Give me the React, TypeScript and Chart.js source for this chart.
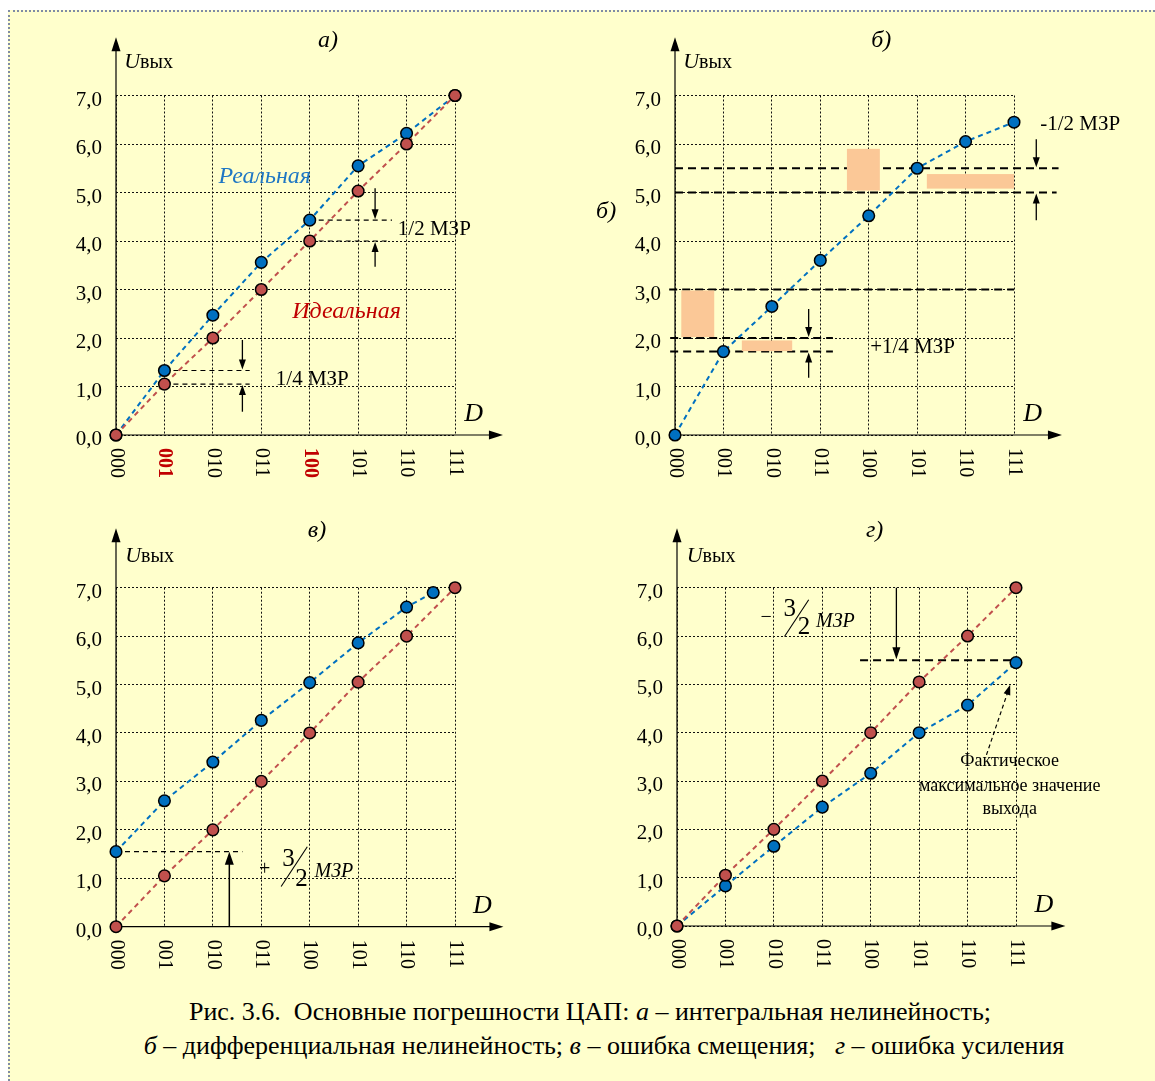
import React, { useEffect, useRef } from 'react';
import { Chart, registerables } from 'chart.js';

Chart.register(...registerables);

const SERIF = '"Liberation Serif", "Times New Roman", "DejaVu Serif", serif';

// ---------- data ----------
const codes = [0, 1, 2, 3, 4, 5, 6, 7];
const codeLabels = ['000', '001', '010', '011', '100', '101', '110', '111'];
const yTickValues = [0, 1, 2, 3, 4, 5, 6, 7];
const yTickLabels = ['0,0', '1,0', '2,0', '3,0', '4,0', '5,0', '6,0', '7,0'];

// а) integral nonlinearity
const idealA = [0, 1.05, 2, 3, 4, 5.03, 6, 7];
const realA = [0, 1.33, 2.47, 3.56, 4.43, 5.55, 6.22, 7];
// б) differential nonlinearity
const realB = [0, 1.72, 2.65, 3.6, 4.52, 5.5, 6.05, 6.45];
// в) offset error
const idealC = [0, 1.05, 2, 3, 4, 5.05, 6, 7];
const realCx = [0, 1, 2, 3, 4, 5, 6, 6.55];
const realC = [1.55, 2.6, 3.4, 4.26, 5.04, 5.86, 6.6, 6.9];
// г) gain error
const idealD = [0, 1.05, 2, 3, 4, 5.05, 6, 7];
const realD = [0, 0.83, 1.65, 2.46, 3.16, 4.0, 4.57, 5.45];

const BLUE = '#0070C0';
const RED = '#C0504D';

// ---------- helpers ----------
type H = { ctx: CanvasRenderingContext2D; X: (v: number) => number; Y: (v: number) => number };

function seg(h: H, x1: number, y1: number, x2: number, y2: number, w = 1, dash: number[] = [], color = '#000') {
  const { ctx, X, Y } = h;
  ctx.save();
  ctx.beginPath();
  ctx.setLineDash(dash);
  ctx.lineWidth = w;
  ctx.strokeStyle = color;
  ctx.moveTo(X(x1), Y(y1));
  ctx.lineTo(X(x2), Y(y2));
  ctx.stroke();
  ctx.restore();
}

function arrow(h: H, x1: number, y1: number, x2: number, y2: number, w = 1.3, len = 10, wid = 7, dash: number[] = []) {
  const { ctx, X, Y } = h;
  const px1 = X(x1), py1 = Y(y1), px2 = X(x2), py2 = Y(y2);
  const ang = Math.atan2(py2 - py1, px2 - px1);
  const bx = px2 - Math.cos(ang) * len * 0.8;
  const by = py2 - Math.sin(ang) * len * 0.8;
  ctx.save();
  ctx.beginPath();
  ctx.setLineDash(dash);
  ctx.lineWidth = w;
  ctx.strokeStyle = '#000';
  ctx.moveTo(px1, py1);
  ctx.lineTo(bx, by);
  ctx.stroke();
  ctx.setLineDash([]);
  ctx.beginPath();
  ctx.fillStyle = '#000';
  ctx.moveTo(px2, py2);
  ctx.lineTo(px2 - Math.cos(ang) * len - Math.sin(ang) * wid / 2, py2 - Math.sin(ang) * len + Math.cos(ang) * wid / 2);
  ctx.lineTo(px2 - Math.cos(ang) * len + Math.sin(ang) * wid / 2, py2 - Math.sin(ang) * len - Math.cos(ang) * wid / 2);
  ctx.closePath();
  ctx.fill();
  ctx.restore();
}

function txt(h: H, s: string, x: number, y: number, font: string, color = '#000', align: CanvasTextAlign = 'left', base: CanvasTextBaseline = 'alphabetic') {
  const { ctx, X, Y } = h;
  ctx.save();
  ctx.font = font;
  ctx.fillStyle = color;
  ctx.textAlign = align;
  ctx.textBaseline = base;
  ctx.fillText(s, X(x), Y(y));
  ctx.restore();
}

function rect(h: H, x1: number, x2: number, y1: number, y2: number, color: string) {
  const { ctx, X, Y } = h;
  ctx.save();
  ctx.fillStyle = color;
  ctx.fillRect(X(x1), Y(y2), X(x2) - X(x1), Y(y1) - Y(y2));
  ctx.restore();
}

function fraction(h: H, sign: string, signAt: number[], num: number[], den: number[], slash: number[], mzrAt: number[]) {
  txt(h, sign, signAt[0], signAt[1], `20px ${SERIF}`, '#000', 'center', 'middle');
  txt(h, '3', num[0], num[1], `25px ${SERIF}`, '#000', 'center', 'middle');
  txt(h, '2', den[0], den[1], `25px ${SERIF}`, '#000', 'center', 'middle');
  seg(h, slash[0], slash[1], slash[2], slash[3], 1.1);
  txt(h, 'МЗР', mzrAt[0], mzrAt[1], `italic 20px ${SERIF}`);
}

function series(xs: number[], ys: number[], color: string) {
  return {
    data: xs.map((x, i) => ({ x, y: ys[i] })),
    showLine: true,
    borderColor: color,
    borderWidth: 2,
    borderDash: [5, 4],
    pointRadius: 5.8,
    pointBackgroundColor: color,
    pointBorderColor: '#000',
    pointBorderWidth: 1.5,
    clip: false,
    tension: 0,
  };
}

// ---------- panel specs ----------
type Spec = {
  left: number; top: number; w: number; h: number;
  pad: { left: number; top: number; right: number; bottom: number };
  datasets: any[];
  title: string; titleAt: number[];
  uAt: number[]; dAt: number[];
  yTop: number; xEnd: number;
  redLabels?: number[];
  under?: (h: H) => void;
  over?: (h: H) => void;
};

const specA: Spec = {
  left: 0, top: 0, w: 575, h: 495,
  pad: { left: 116, top: 95.5, right: 120, bottom: 60 },
  datasets: [series(codes, idealA, RED), series(codes, realA, BLUE)],
  title: 'а)', titleAt: [4.38, 8.0],
  uAt: [0.17, 7.56], dAt: [7.19, 0.29],
  yTop: 8.2, xEnd: 7.99,
  redLabels: [1, 4],
  under: (h) => {
    seg(h, 4, 4.43, 5.7, 4.43, 1.2, [5, 4]);
    seg(h, 4, 4.0, 5.62, 4.0, 1.2, [5, 4]);
    seg(h, 1, 1.33, 2.76, 1.33, 1.2, [5, 4]);
    seg(h, 1, 1.05, 2.76, 1.05, 1.2, [5, 4]);
  },
  over: (h) => {
    txt(h, 'Реальная', 3.07, 5.2, `italic 24px ${SERIF}`, '#1F77C4', 'center');
    txt(h, 'Идеальная', 4.76, 2.41, `italic 24px ${SERIF}`, '#C00000', 'center');
    txt(h, '1/2 МЗР', 5.82, 4.12, `21px ${SERIF}`);
    arrow(h, 5.35, 5.09, 5.35, 4.45);
    arrow(h, 5.35, 3.47, 5.35, 3.98);
    txt(h, '1/4 МЗР', 3.3, 1.03, `21px ${SERIF}`);
    arrow(h, 2.61, 1.96, 2.61, 1.35);
    arrow(h, 2.61, 0.48, 2.61, 1.03);
  },
};

const specB: Spec = {
  left: 575, top: 0, w: 580, h: 495,
  pad: { left: 100, top: 95.5, right: 141, bottom: 60 },
  datasets: [series(codes, realB, BLUE)],
  title: 'б)', titleAt: [4.26, 8.0],
  uAt: [0.17, 7.56], dAt: [7.19, 0.29],
  yTop: 8.2, xEnd: 7.99,
  under: (h) => {
    const d = [8, 5];
    seg(h, 0, 5.5, 7.92, 5.5, 2, d);
    seg(h, 0, 5.0, 7.88, 5.0, 2, d);
    seg(h, -0.12, 3.0, 7.0, 3.0, 2, d);
    seg(h, -0.1, 2.0, 3.26, 2.0, 2, d);
    seg(h, -0.1, 1.72, 3.26, 1.72, 2, d);
    const peach = '#FBC897';
    rect(h, 0.13, 0.81, 2.02, 2.98, peach);
    rect(h, 1.38, 2.42, 1.73, 1.95, peach);
    rect(h, 3.55, 4.23, 5.04, 5.9, peach);
    rect(h, 5.2, 7.0, 5.08, 5.38, peach);
  },
  over: (h) => {
    txt(h, '-1/2 МЗР', 7.54, 6.29, `21px ${SERIF}`);
    arrow(h, 7.46, 6.1, 7.46, 5.52);
    arrow(h, 7.46, 4.43, 7.46, 4.98);
    txt(h, '+1/4 МЗР', 4.03, 1.69, `21px ${SERIF}`);
    arrow(h, 2.76, 2.6, 2.76, 2.02);
    arrow(h, 2.76, 1.18, 2.76, 1.7);
    txt(h, 'б)', -1.63, 4.47, `italic 24px ${SERIF}`);
  },
};

const specC: Spec = {
  left: 0, top: 495, w: 575, h: 490,
  pad: { left: 116, top: 92.7, right: 120, bottom: 58.3 },
  datasets: [series(codes, idealC, RED), series(realCx, realC, BLUE)],
  title: 'в)', titleAt: [4.15, 8.05],
  uAt: [0.19, 7.53], dAt: [7.37, 0.28],
  yTop: 8.23, xEnd: 8.0,
  under: (h) => {
    seg(h, 0, 1.55, 2.61, 1.55, 1.2, [5, 4]);
  },
  over: (h) => {
    arrow(h, 2.34, 0, 2.34, 1.55, 1.5, 13, 9);
    fraction(h, '+', [3.07, 1.17], [3.56, 1.38], [3.83, 0.97], [3.41, 0.83, 3.95, 1.65], [4.1, 1.03]);
  },
};

const specD: Spec = {
  left: 575, top: 495, w: 580, h: 490,
  pad: { left: 102, top: 92.7, right: 139, bottom: 59 },
  datasets: [series(codes, idealD, RED), series(codes, realD, BLUE)],
  title: 'г)', titleAt: [4.08, 8.05],
  uAt: [0.2, 7.53], dAt: [7.38, 0.28],
  yTop: 8.23, xEnd: 8.02,
  under: (h) => {
    seg(h, 3.78, 5.5, 7.0, 5.5, 2, [8, 5]);
  },
  over: (h) => {
    arrow(h, 4.53, 7.0, 4.53, 5.52, 1.3, 12, 8);
    fraction(h, '−', [1.84, 6.37], [2.33, 6.54], [2.62, 6.17], [2.22, 5.99, 2.72, 6.75], [2.87, 6.19]);
    arrow(h, 6.39, 3.54, 6.88, 4.99, 1.2, 10, 7, [4, 3]);
    const f = `18px ${SERIF}`;
    txt(h, 'Фактическое', 6.87, 3.31, f, '#000', 'center');
    txt(h, 'максимальное значение', 6.87, 2.79, f, '#000', 'center');
    txt(h, 'выхода', 6.87, 2.32, f, '#000', 'center');
  },
};

const specs = [specA, specB, specC, specD];

function helper(chart: any): H {
  const xs = chart.scales.x;
  const ys = chart.scales.y;
  return { ctx: chart.ctx, X: (v) => xs.getPixelForValue(v), Y: (v) => ys.getPixelForValue(v) };
}

function makePlugin(spec: Spec) {
  return {
    id: 'deco',
    beforeDatasetsDraw(chart: any) {
      const h = helper(chart);
      arrow(h, 0, 0, 0, spec.yTop, 1.2, 14, 9);
      arrow(h, 0, 0, spec.xEnd, 0, 1.2, 14, 9);
      if (spec.under) spec.under(h);
    },
    afterDraw(chart: any) {
      const h = helper(chart);
      const { ctx, X, Y } = h;
      yTickValues.forEach((v, i) => {
        ctx.save();
        ctx.font = `21px ${SERIF}`;
        ctx.fillStyle = '#000';
        ctx.textAlign = 'right';
        ctx.textBaseline = 'alphabetic';
        ctx.fillText(yTickLabels[i], X(0) - 14, Y(v) + 10);
        ctx.restore();
      });
      codes.forEach((v, i) => {
        const red = spec.redLabels && spec.redLabels.includes(i);
        ctx.save();
        ctx.translate(X(v), Y(0) + 13);
        ctx.rotate(Math.PI / 2);
        ctx.font = `${red ? 'bold ' : ''}20px ${SERIF}`;
        ctx.fillStyle = red ? '#C00000' : '#000';
        ctx.textAlign = 'left';
        ctx.textBaseline = 'middle';
        ctx.fillText(codeLabels[i], 0, 0);
        ctx.restore();
      });
      txt(h, spec.title, spec.titleAt[0], spec.titleAt[1], `italic 24px ${SERIF}`, '#000', 'center');
      ctx.save();
      ctx.font = `italic 22px ${SERIF}`;
      ctx.fillStyle = '#000';
      ctx.textBaseline = 'alphabetic';
      const ux = X(spec.uAt[0]);
      const uy = Y(spec.uAt[1]);
      ctx.fillText('U', ux, uy);
      const uw = ctx.measureText('U').width;
      ctx.font = `20px ${SERIF}`;
      ctx.fillText('вых', ux + uw, uy);
      ctx.restore();
      txt(h, 'D', spec.dAt[0], spec.dAt[1], `italic 26px ${SERIF}`);
      if (spec.over) spec.over(h);
    },
  };
}

function Panel({ spec }: { spec: Spec }) {
  const ref = useRef<HTMLCanvasElement>(null);
  useEffect(() => {
    const axis = {
      type: 'linear',
      min: 0,
      max: 7,
      ticks: { display: false, stepSize: 1 },
      grid: { color: '#111', lineWidth: 1, drawTicks: false },
      border: { display: false, dash: [2, 2] },
    };
    const chart = new Chart(ref.current as HTMLCanvasElement, {
      type: 'scatter',
      data: { datasets: spec.datasets },
      options: {
        animation: false,
        responsive: false,
        maintainAspectRatio: false,
        devicePixelRatio: 1,
        events: [],
        layout: { padding: spec.pad },
        plugins: { legend: { display: false }, tooltip: { enabled: false }, title: { display: false } },
        scales: { x: { ...axis }, y: { ...axis } },
      } as any,
      plugins: [makePlugin(spec)],
    } as any);
    return () => chart.destroy();
  }, [spec]);
  return (
    <canvas
      ref={ref}
      width={spec.w}
      height={spec.h}
      style={{ position: 'absolute', left: spec.left, top: spec.top, width: spec.w, height: spec.h, display: 'block' }}
    />
  );
}

export default function App() {
  const capFont: React.CSSProperties = {
    position: 'absolute',
    width: 1100,
    textAlign: 'center',
    fontFamily: SERIF,
    fontSize: 26,
    lineHeight: '30px',
    whiteSpace: 'pre',
    color: '#000',
  };
  return (
    <div style={{ position: 'absolute', left: 0, top: 0, width: 1155, height: 1081, background: '#fff', overflow: 'hidden' }}>
      <div
        style={{
          position: 'absolute', left: 8, top: 10, width: 1147, height: 1071, boxSizing: 'border-box',
          background: '#FFFFCC', borderTop: '2px dotted #7F8BA5', borderLeft: '2px dotted #7F8BA5',
        }}
      />
      {specs.map((s, i) => <Panel key={i} spec={s} />)}
      <div style={{ ...capFont, left: 590 - 550, top: 997 }}>
        {'Рис. 3.6.  Основные погрешности ЦАП: '}<i>а</i>{' – интегральная нелинейность;'}
      </div>
      <div style={{ ...capFont, left: 604 - 550, top: 1031 }}>
        <i>б</i>{' – дифференциальная нелинейность; '}<i>в</i>{' – ошибка смещения;   '}<i>г</i>{' – ошибка усиления'}
      </div>
    </div>
  );
}
